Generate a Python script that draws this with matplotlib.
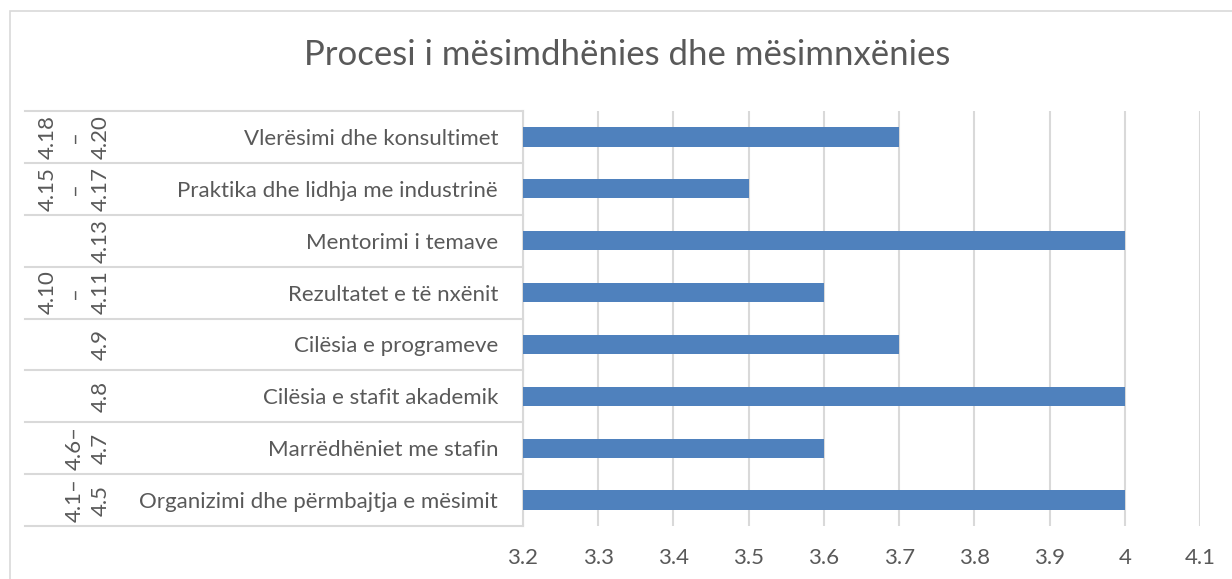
import matplotlib.pyplot as plt
from matplotlib.patches import Rectangle
from matplotlib.lines import Line2D
from matplotlib.transforms import blended_transform_factory

plt.rcParams['font.family'] = ['Lato', 'DejaVu Sans']

# top to bottom as in the picture
kategorite = ['Vlerësimi dhe konsultimet', 'Praktika dhe lidhja me industrinë',
              'Mentorimi i temave', 'Rezultatet e të nxënit', 'Cilësia e programeve',
              'Cilësia e stafit akademik', 'Marrëdhëniet me stafin',
              'Organizimi dhe përmbajtja e mësimit']
seksionet = ['4.18\n–\n4.20', '4.15\n–\n4.17', '4.13', '4.10\n–\n4.11', '4.9',
             '4.8', '4.6–\n4.7', '4.1–\n4.5']
vlerat = [3.7, 3.5, 4.0, 3.6, 3.7, 4.0, 3.6, 4.0]
x_ticks = [3.2, 3.3, 3.4, 3.5, 3.6, 3.7, 3.8, 3.9, 4.0, 4.1]
x_labels = ['3.2', '3.3', '3.4', '3.5', '3.6', '3.7', '3.8', '3.9', '4', '4.1']

ngjyra_teksti = '#595959'
ngjyra_gride = '#d9d9d9'

W, H = 1232, 579
fig = plt.figure(figsize=(W / 100, H / 100), dpi=100)
ax = fig.add_axes([523 / W, 1 - 526 / H, (1200 - 523) / W, (526 - 111) / H])

n = len(kategorite)
y = list(range(n - 1, -1, -1))
ax.barh(y, vlerat, height=0.37, color='#4f81bd', zorder=3)

ax.set_xlim(3.2, 4.1)
ax.set_ylim(-0.5, n - 0.5)
ax.set_xticks(x_ticks)
ax.set_xticklabels(x_labels, fontsize=16, color=ngjyra_teksti)
ax.set_yticks(y)
ax.set_yticklabels(kategorite, fontsize=16, color=ngjyra_teksti)
ax.tick_params(axis='x', length=0, pad=16)
ax.tick_params(axis='y', length=0, pad=18)
ax.grid(axis='x', color=ngjyra_gride, linewidth=1.5, zorder=0)
for s in ['top', 'right', 'bottom']:
    ax.spines[s].set_visible(False)
ax.spines['left'].set_color(ngjyra_gride)
ax.spines['left'].set_linewidth(1.5)

# multi-level category separators and outer labels
tr = blended_transform_factory(fig.transFigure, ax.transData)
for k in range(n + 1):
    fig.add_artist(Line2D([25 / W, 523 / W], [k - 0.5, k - 0.5], transform=tr,
                          color=ngjyra_gride, linewidth=1.5))
for yi, lbl in zip(y, seksionet):
    ax.text(111 / W, yi, lbl, transform=tr, rotation=90, ha='right', va='center',
            multialignment='center', linespacing=1.4, fontsize=16,
            color=ngjyra_teksti, clip_on=False)

fig.text(0.509, 1 - 55 / H, 'Procesi i mësimdhënies dhe mësimnxënies',
         ha='center', va='center', fontsize=25, color=ngjyra_teksti)

fig.add_artist(Rectangle((10 / W, -0.05), 1.1, 1.05 - 11 / H, transform=fig.transFigure,
                         fill=False, edgecolor=ngjyra_gride, linewidth=1.2))

fig.savefig('out.png', dpi=100)
